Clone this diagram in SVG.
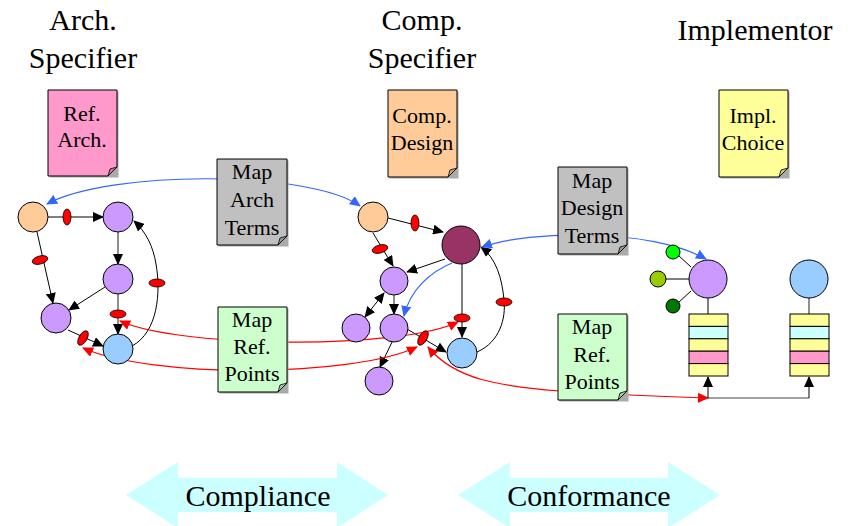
<svg xmlns="http://www.w3.org/2000/svg" width="854" height="526" viewBox="0 0 854 526" font-family="'Liberation Serif','Times New Roman','DejaVu Serif',serif">
<style>
text{font-family:'Liberation Serif','Times New Roman','DejaVu Serif',serif;fill:#000;text-anchor:middle}
.title{font-size:30px}
.doc{font-size:22px}
.big{font-size:30px}
.n{stroke:#000;stroke-width:1}
.e{stroke:#000;stroke-width:1;fill:none}
.g{stroke:#444;stroke-width:1.2;fill:none}
.b{stroke:#3366FF;stroke-width:1.2;fill:none}
.r{stroke:#FF0000;stroke-width:1.2;fill:none}
.el{fill:#FF0000;stroke:#000;stroke-width:0.8}
.sh{fill:#aaa}
.fold{stroke:#000;stroke-width:0.8}
</style>
<defs>
<marker id="ak" markerUnits="userSpaceOnUse" markerWidth="11" markerHeight="10" refX="10" refY="5" orient="auto-start-reverse"><path d="M0,0 L11,5 L0,10 z" fill="#000"/></marker>
<marker id="ab" markerUnits="userSpaceOnUse" markerWidth="11" markerHeight="10" refX="10" refY="5" orient="auto-start-reverse"><path d="M0,0 L11,5 L0,10 z" fill="#3366FF"/></marker>
<marker id="ar" markerUnits="userSpaceOnUse" markerWidth="11" markerHeight="10" refX="10" refY="5" orient="auto-start-reverse"><path d="M0,0 L11,5 L0,10 z" fill="#FF0000"/></marker>
</defs>

<g id="titles">
<text class="title" x="83" y="30">Arch.</text>
<text class="title" x="83" y="68">Specifier</text>
<text class="title" x="422" y="30">Comp.</text>
<text class="title" x="422" y="68">Specifier</text>
<text class="title" x="755" y="40">Implementor</text>
</g>

<g id="compliance">
<polygon points="126,495 178,462 178,478 337,478 337,462 388,495 337,528 337,512 178,512 178,528" fill="#CCFFFF"/>
<text class="big" x="258" y="506">Compliance</text>
</g>
<g id="conformance">
<polygon points="458,495 510,462 510,478 668,478 668,462 720,495 668,528 668,512 510,512 510,528" fill="#CCFFFF"/>
<text class="big" x="589" y="506">Conformance</text>
</g>

<g id="connectors">
<line class="e" x1="48" y1="217" x2="103" y2="217" marker-end="url(#ak)"/>
<line class="e" x1="37" y1="232" x2="53" y2="303" marker-end="url(#ak)"/>
<line class="g" x1="118" y1="232" x2="118" y2="264" marker-end="url(#ak)"/>
<line class="e" x1="105" y1="287" x2="69" y2="310" marker-end="url(#ak)"/>
<line class="g" x1="118" y1="294" x2="118" y2="334" marker-end="url(#ak)"/>
<line class="e" x1="68" y1="330" x2="103" y2="346" marker-end="url(#ak)"/>
<path class="e" d="M132,346 C158,332 161,292 156,264 C153,246 146,232 134,221" marker-end="url(#ak)"/>
<line class="e" x1="388" y1="218" x2="443" y2="232" marker-end="url(#ak)"/>
<line class="e" x1="373" y1="233" x2="393" y2="266" marker-end="url(#ak)"/>
<line class="e" x1="445" y1="259" x2="407" y2="272" marker-end="url(#ak)"/>
<line class="e" x1="462" y1="264" x2="462" y2="337" marker-end="url(#ak)"/>
<path class="e" d="M477,352 C500,342 506,318 504,300 C502,278 496,258 481,247" marker-end="url(#ak)"/>
<line class="e" x1="384" y1="293" x2="365" y2="317" marker-start="url(#ak)" marker-end="url(#ak)"/>
<line class="g" x1="394" y1="295" x2="394" y2="314" marker-end="url(#ak)"/>
<line class="e" x1="393" y1="340" x2="380" y2="367" marker-end="url(#ak)"/>
<line class="e" x1="407" y1="329" x2="446" y2="352" marker-end="url(#ak)"/>
<path class="b" d="M452,263 C430,272 410,290 404,316" marker-end="url(#ab)"/>
<path class="b" d="M47,204 C110,170 310,170 360,206" marker-start="url(#ab)" marker-end="url(#ab)"/>
<path class="b" d="M482,247 C530,230 650,228 706,259" marker-start="url(#ab)" marker-end="url(#ab)"/>
<path class="r" d="M120,321 C180,348 400,350 458,322" marker-start="url(#ar)" marker-end="url(#ar)"/>
<path class="r" d="M83,348 C150,378 350,378 417,347" marker-start="url(#ar)" marker-end="url(#ar)"/>
<path class="r" d="M428,347 C455,380 500,386 560,391 C620,395 670,397 708,398" marker-start="url(#ar)" marker-end="url(#ar)"/>
<line class="e" x1="678" y1="255" x2="691" y2="267"/>
<line class="e" x1="666" y1="279" x2="689" y2="279"/>
<line class="e" x1="678" y1="303" x2="691" y2="291"/>
<line class="e" x1="708" y1="298" x2="708" y2="314"/>
<line class="g" x1="809" y1="298" x2="809" y2="314"/>
<path class="g" d="M708,398 H809"/>
<line class="e" x1="708" y1="398" x2="708" y2="377" marker-end="url(#ak)"/>
<line class="e" x1="809" y1="398" x2="809" y2="377" marker-end="url(#ak)"/>
<ellipse class="el" cx="67" cy="217" rx="4" ry="8"/>
<ellipse class="el" cx="40" cy="260" rx="8" ry="4" transform="rotate(-15 40 260)"/>
<ellipse class="el" cx="118" cy="314" rx="8" ry="4"/>
<ellipse class="el" cx="83" cy="338" rx="4" ry="8" transform="rotate(30 83 338)"/>
<ellipse class="el" cx="157" cy="283" rx="8" ry="4"/>
<ellipse class="el" cx="415" cy="223" rx="4" ry="8"/>
<ellipse class="el" cx="380" cy="249" rx="8" ry="4" transform="rotate(-15 380 249)"/>
<ellipse class="el" cx="462" cy="318" rx="8" ry="4"/>
<ellipse class="el" cx="504" cy="302" rx="8" ry="4"/>
<ellipse class="el" cx="423" cy="338" rx="4" ry="8" transform="rotate(30 423 338)"/>
</g>

<g id="a-orange"><circle class="n" cx="33" cy="217" r="15" fill="#FFCC99"/></g>
<g id="a-top"><circle class="n" cx="118" cy="217" r="15" fill="#CC99FF"/></g>
<g id="a-mid"><circle class="n" cx="118" cy="279" r="15" fill="#CC99FF"/></g>
<g id="a-left"><circle class="n" cx="56" cy="318" r="15" fill="#CC99FF"/></g>
<g id="a-blue"><circle class="n" cx="118" cy="349" r="15" fill="#99CCFF"/></g>
<g id="c-orange"><circle class="n" cx="373" cy="217" r="15" fill="#FFCC99"/></g>
<g id="c-maroon"><circle class="n" cx="461" cy="245" r="19" fill="#993366"/></g>
<g id="c-a"><circle class="n" cx="394" cy="281" r="14" fill="#CC99FF"/></g>
<g id="c-b"><circle class="n" cx="356" cy="328" r="14" fill="#CC99FF"/></g>
<g id="c-c"><circle class="n" cx="394" cy="328" r="14" fill="#CC99FF"/></g>
<g id="c-d"><circle class="n" cx="379" cy="381" r="14" fill="#CC99FF"/></g>
<g id="c-blue"><circle class="n" cx="462" cy="353" r="15" fill="#99CCFF"/></g>
<g id="i-g1"><circle class="n" cx="673" cy="252" r="7" fill="#00FF00"/></g>
<g id="i-g2"><circle class="n" cx="658" cy="279" r="8" fill="#99CC00"/></g>
<g id="i-g3"><circle class="n" cx="673" cy="306" r="7" fill="#007700"/></g>
<g id="i-purple"><circle class="n" cx="708" cy="279" r="19" fill="#CC99FF"/></g>
<g id="i-blue"><circle class="n" cx="809" cy="279" r="19" fill="#99CCFF"/></g>
<g id="i-stack1">
<rect class="n" x="689" y="314" width="39" height="12.4" fill="#FFFF99"/>
<rect class="n" x="689" y="326.4" width="39" height="12.4" fill="#CCFFFF"/>
<rect class="n" x="689" y="338.8" width="39" height="12.4" fill="#FFFF99"/>
<rect class="n" x="689" y="351.2" width="39" height="12.4" fill="#FF99CC"/>
<rect class="n" x="689" y="363.6" width="39" height="12.4" fill="#FFFF99"/>
</g>
<g id="i-stack2">
<rect class="n" x="790" y="314" width="39" height="12.4" fill="#FFFF99"/>
<rect class="n" x="790" y="326.4" width="39" height="12.4" fill="#CCFFFF"/>
<rect class="n" x="790" y="338.8" width="39" height="12.4" fill="#FFFF99"/>
<rect class="n" x="790" y="351.2" width="39" height="12.4" fill="#FF99CC"/>
<rect class="n" x="790" y="363.6" width="39" height="12.4" fill="#FFFF99"/>
</g>

<g id="doc-refarch">
<rect class="sh" x="49.5" y="91.5" width="69" height="86"/>
<path class="n" d="M48,90 H117 V167 L108,176 H48 Z" fill="#FF99CC"/>
<path class="fold" d="M108,176 L110,169 L117,167 Z" fill="#CC7AA3"/>
<text class="doc" x="82" y="121">Ref.</text>
<text class="doc" x="82" y="147">Arch.</text>
</g>
<g id="doc-compdesign">
<rect class="sh" x="389.5" y="91.5" width="69" height="87"/>
<path class="n" d="M388,90 H457 V168 L448,177 H388 Z" fill="#FFCC99"/>
<path class="fold" d="M448,177 L450,170 L457,168 Z" fill="#CCA37A"/>
<text class="doc" x="422" y="123">Comp.</text>
<text class="doc" x="422" y="150">Design</text>
</g>
<g id="doc-implchoice">
<rect class="sh" x="720.5" y="91.5" width="69" height="87"/>
<path class="n" d="M719,90 H788 V168 L779,177 H719 Z" fill="#FFFF99"/>
<path class="fold" d="M779,177 L781,170 L788,168 Z" fill="#CCCC7A"/>
<text class="doc" x="753" y="123">Impl.</text>
<text class="doc" x="753" y="150">Choice</text>
</g>
<g id="doc-maparch">
<rect class="sh" x="218.5" y="160.5" width="70" height="86"/>
<path class="n" d="M217,159 H287 V236 L278,245 H217 Z" fill="#C0C0C0"/>
<path class="fold" d="M278,245 L280,238 L287,236 Z" fill="#9A9A9A"/>
<text class="doc" x="252" y="179">Map</text>
<text class="doc" x="252" y="207">Arch</text>
<text class="doc" x="252" y="235">Terms</text>
</g>
<g id="doc-maprefL">
<rect class="sh" x="219.5" y="308.5" width="69" height="85"/>
<path class="n" d="M218,307 H287 V383 L278,392 H218 Z" fill="#CCFFCC"/>
<path class="fold" d="M278,392 L280,385 L287,383 Z" fill="#A3CCA3"/>
<text class="doc" x="252" y="327">Map</text>
<text class="doc" x="252" y="354">Ref.</text>
<text class="doc" x="252" y="381">Points</text>
</g>
<g id="doc-mapdesign">
<rect class="sh" x="559.5" y="168.5" width="69" height="87"/>
<path class="n" d="M558,167 H627 V245 L618,254 H558 Z" fill="#C0C0C0"/>
<path class="fold" d="M618,254 L620,247 L627,245 Z" fill="#9A9A9A"/>
<text class="doc" x="592" y="188">Map</text>
<text class="doc" x="592" y="215">Design</text>
<text class="doc" x="592" y="243">Terms</text>
</g>
<g id="doc-maprefR">
<rect class="sh" x="559.5" y="315.5" width="69" height="86"/>
<path class="n" d="M558,314 H627 V391 L618,400 H558 Z" fill="#CCFFCC"/>
<path class="fold" d="M618,400 L620,393 L627,391 Z" fill="#A3CCA3"/>
<text class="doc" x="592" y="334">Map</text>
<text class="doc" x="592" y="362">Ref.</text>
<text class="doc" x="592" y="389">Points</text>
</g>
</svg>
